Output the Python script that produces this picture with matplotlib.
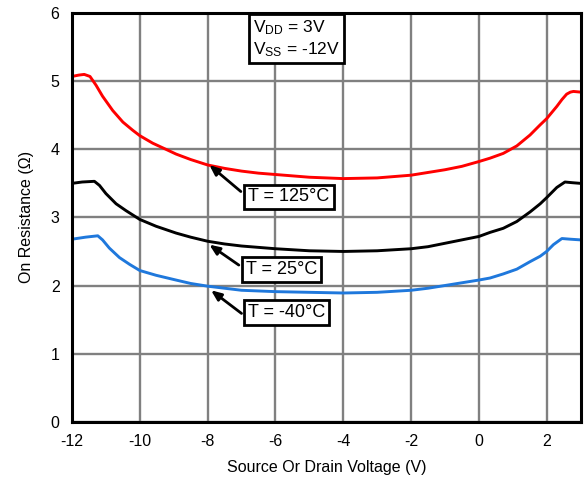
import matplotlib
matplotlib.use("Agg")
import matplotlib.pyplot as plt

plt.rcParams['font.family'] = ['Liberation Sans', 'DejaVu Sans']
plt.rcParams['mathtext.fontset'] = 'custom'
plt.rcParams['mathtext.rm'] = 'Liberation Sans'

red_x = [-12, -11.8, -11.64, -11.47, -11.29, -11.1, -10.8, -10.5, -10.21, -10, -9.62, -9.23, -8.93, -8.5, -8, -7.5, -7, -6.5, -6, -5, -4, -3, -2, -1.5, -1, -0.5, 0, 0.33, 0.72, 1.12, 1.51, 1.81, 2, 2.3, 2.45, 2.59, 2.7, 2.79, 3]
red_y = [5.07, 5.09, 5.10, 5.07, 4.94, 4.78, 4.57, 4.40, 4.28, 4.20, 4.09, 4.00, 3.93, 3.85, 3.77, 3.72, 3.68, 3.65, 3.63, 3.59, 3.57, 3.58, 3.62, 3.66, 3.70, 3.75, 3.82, 3.87, 3.94, 4.05, 4.21, 4.36, 4.45, 4.63, 4.73, 4.81, 4.84, 4.85, 4.84]

black_x = [-12, -11.7, -11.34, -11.19, -11.0, -10.7, -10.41, -10, -9.52, -8.93, -8.5, -8, -7.5, -7, -6, -5, -4, -3, -2, -1.5, -1, -0.5, 0, 0.33, 0.72, 1.12, 1.51, 1.81, 2, 2.3, 2.54, 2.75, 3]
black_y = [3.50, 3.52, 3.53, 3.47, 3.35, 3.20, 3.10, 2.97, 2.87, 2.77, 2.71, 2.65, 2.61, 2.58, 2.54, 2.51, 2.50, 2.51, 2.54, 2.57, 2.62, 2.67, 2.72, 2.78, 2.84, 2.94, 3.08, 3.20, 3.29, 3.44, 3.52, 3.51, 3.50]

blue_x = [-12, -11.6, -11.24, -11.1, -10.9, -10.6, -10.3, -10, -9.52, -8.93, -8.5, -8, -7.5, -7, -6, -5, -4, -3, -2, -1.5, -1, -0.5, 0, 0.33, 0.72, 1.12, 1.51, 1.81, 2, 2.2, 2.45, 2.7, 3]
blue_y = [2.68, 2.71, 2.73, 2.67, 2.55, 2.41, 2.31, 2.22, 2.15, 2.08, 2.03, 1.99, 1.96, 1.93, 1.91, 1.90, 1.89, 1.90, 1.93, 1.96, 2.00, 2.04, 2.08, 2.11, 2.17, 2.24, 2.35, 2.43, 2.50, 2.60, 2.69, 2.68, 2.67]

labels = ["T = 125°C", "T = 25°C", "T = -40°C"]
x_ticks = [-12, -10, -8, -6, -4, -2, 0, 2]
y_ticks = [0, 1, 2, 3, 4, 5, 6]

fig = plt.figure(figsize=(5.87, 4.86), dpi=100)
ax = fig.add_axes([0.1227, 0.1323, 0.989 - 0.1227, 0.973 - 0.1323])

for xs, ys, col in [(red_x, red_y, '#FF0000'), (black_x, black_y, 'black'), (blue_x, blue_y, '#1F78DC')]:
    ax.plot(xs, ys, color=col, lw=2.1, zorder=3, solid_joinstyle='round', solid_capstyle='round')

ax.set_xlim(-12, 3)
ax.set_ylim(0, 6)
ax.set_xticks(x_ticks)
ax.set_yticks(y_ticks)
ax.set_xticklabels([str(t) for t in x_ticks])
ax.grid(True, color='#808080', lw=1.7, zorder=1)
ax.set_axisbelow(True)
ax.tick_params(length=0, labelsize=11.5)
ax.tick_params(axis='x', pad=9)
ax.tick_params(axis='y', pad=9)
for s in ax.spines.values():
    s.set_linewidth(2.2)
    s.set_color('black')
    s.set_zorder(5)

ax.set_xlabel("Source Or Drain Voltage (V)", fontsize=11.5, labelpad=8)
ax.set_ylabel("On Resistance (Ω)", fontsize=11.5, labelpad=12)

box = dict(boxstyle='square,pad=0.22', fc='white', ec='black', lw=2)
arrow = dict(arrowstyle='-|>,head_length=0.6,head_width=0.25', color='black', lw=2, shrinkA=0, shrinkB=0)

# annotations: (text center, tail, tip)
ann = [
    (labels[0], (-5.6, 3.30), (-7.02, 3.38), (-7.95, 3.77)),
    (labels[1], (-5.82, 2.24), (-7.08, 2.30), (-7.95, 2.60)),
    (labels[2], (-5.68, 1.60), (-7.00, 1.59), (-7.9, 1.93)),
]
for txt, c, tail, tip in ann:
    ax.annotate("", xy=tip, xytext=tail, arrowprops=arrow, zorder=6)
    ax.text(c[0], c[1], txt, ha='center', va='center', fontsize=13, bbox=box, zorder=7)

ax.text(-5.38, 5.93, "$\\mathregular{V_{DD}}$ = 3V\n$\\mathregular{V_{SS}}$ = -12V",
        ha='center', va='top', multialignment='left', fontsize=12.5, linespacing=1.25,
        bbox=dict(boxstyle='square,pad=0.22', fc='white', ec='black', lw=2), zorder=7)

fig.savefig("out.png", dpi=100)
